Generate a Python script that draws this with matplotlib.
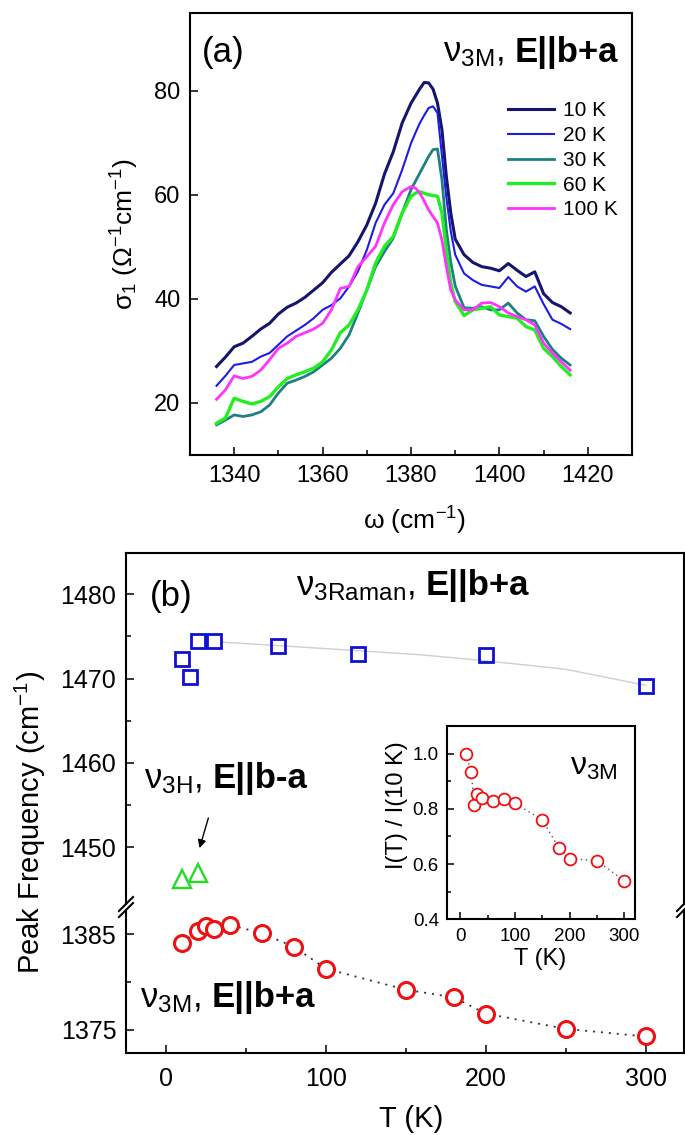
import matplotlib
matplotlib.use("Agg")
import matplotlib.pyplot as plt
from matplotlib.ticker import MultipleLocator, FixedLocator
from matplotlib.lines import Line2D

plt.rcParams['font.family'] = ['Liberation Sans', 'DejaVu Sans']
plt.rcParams['mathtext.fontset'] = 'custom'
plt.rcParams['mathtext.rm'] = 'Liberation Sans'
plt.rcParams['mathtext.it'] = 'Liberation Sans:italic'
plt.rcParams['mathtext.bf'] = 'Liberation Sans:bold'
plt.rcParams['mathtext.default'] = 'regular'

# ---- panel (a): sigma_1 spectra ----
w = [1336, 1338, 1340, 1342, 1344, 1346, 1348, 1350, 1352, 1354, 1356, 1358,
     1360, 1362, 1364, 1366, 1368, 1370, 1372, 1374, 1376, 1378, 1380,
     1381, 1382, 1383, 1384, 1385, 1386, 1387, 1388, 1389, 1390,
     1392, 1394, 1396, 1398, 1400, 1402, 1404, 1406, 1408, 1410, 1412, 1414, 1416]
s10 = [27.0, 28.8, 30.8, 31.5, 32.8, 34.2, 35.3, 37.1, 38.4, 39.2, 40.3, 41.7,
       43.1, 45.1, 46.7, 48.3, 51.0, 54.2, 58.4, 64.0, 68.3, 73.8, 77.6,
       79.0, 80.4, 81.6, 81.5, 80.3, 77.6, 72.5, 63.5, 56.5, 51.5,
       48.5, 47.0, 46.2, 45.9, 45.4, 46.8, 45.5, 44.3, 45.2, 41.0, 39.3, 38.5, 37.3]
s20 = [23.3, 25.2, 27.3, 27.6, 27.9, 28.9, 29.6, 31.2, 32.8, 33.9, 35.0, 36.3,
       37.9, 38.8, 40.1, 42.4, 45.3, 49.4, 54.6, 58.1, 60.3, 64.8, 69.9,
       71.9, 73.8, 75.3, 76.7, 77.0, 75.7, 67.5, 59.5, 53.0, 48.5,
       44.9, 43.6, 42.7, 42.4, 42.1, 44.2, 42.4, 41.4, 42.4, 39.0, 36.0, 35.2, 34.2]
s30 = [15.8, 16.7, 17.7, 17.4, 17.7, 18.3, 19.6, 21.9, 23.8, 24.4, 25.1, 26.0,
       27.3, 28.6, 30.5, 33.1, 37.3, 41.7, 46.2, 49.1, 51.7, 56.5, 61.0,
       62.6, 64.2, 65.8, 67.4, 68.7, 68.8, 62.9, 53.3, 47.0, 42.5,
       38.3, 38.2, 38.5, 37.9, 37.9, 39.2, 37.3, 36.0, 35.8, 32.8, 30.3, 28.6, 27.3]
s60 = [16.1, 17.1, 20.9, 20.3, 19.8, 20.3, 21.2, 23.1, 24.7, 25.4, 26.0, 26.7,
       27.9, 30.2, 33.5, 35.0, 37.9, 41.7, 46.9, 50.1, 52.0, 56.5, 59.7,
       60.3, 60.6, 60.3, 60.0, 59.9, 59.7, 56.5, 49.4, 43.0, 39.5,
       36.8, 37.9, 38.2, 38.5, 36.9, 36.6, 36.3, 34.7, 34.0, 30.5, 28.9, 27.0, 25.4]
s100 = [20.7, 22.5, 25.2, 24.7, 25.1, 26.3, 28.3, 30.5, 31.5, 32.8, 33.5, 34.2,
        35.3, 37.9, 42.0, 42.4, 46.2, 48.1, 50.1, 54.6, 58.1, 60.6, 61.6,
        61.3, 60.3, 58.8, 57.1, 55.8, 54.6, 51.3, 46.2, 41.7, 39.8,
        37.9, 37.9, 39.2, 39.3, 38.5, 37.3, 36.6, 36.0, 35.0, 31.5, 29.6, 27.9, 26.3]
spec_labels = ['10 K', '20 K', '30 K', '60 K', '100 K']

# ---- panel (b): peak frequencies ----
T_raman = [10, 15, 20, 30, 70, 120, 200, 300]
f_raman = [1472.3, 1470.2, 1474.4, 1474.4, 1473.8, 1472.9, 1472.8, 1469.1]
T_guide = [35, 70, 120, 160, 200, 250, 300]
f_guide = [1474.3, 1473.9, 1473.3, 1472.8, 1472.1, 1471.1, 1469.2]
T_h = [10, 20]
f_h = [1446.3, 1447.0]
T_m = [10, 20, 25, 30, 40, 60, 80, 100, 150, 180, 200, 250, 300]
f_m = [1384.1, 1385.3, 1385.9, 1385.6, 1386.0, 1385.1, 1383.7, 1381.4,
       1379.2, 1378.4, 1376.7, 1375.1, 1374.3]
# inset: normalised intensity
T_i = [10, 20, 25, 30, 40, 60, 80, 100, 150, 180, 200, 250, 300]
I_i = [1.0, 0.935, 0.815, 0.855, 0.84, 0.83, 0.835, 0.82, 0.76, 0.66, 0.62, 0.612, 0.54]

W, H = 685, 1135
fig = plt.figure(figsize=(W / 100, H / 100), dpi=100)


def rect(l, t, r, b):
    return [l / W, 1 - b / H, (r - l) / W, (b - t) / H]


def style(ax, size, pad):
    for s in ax.spines.values():
        s.set_linewidth(1.5)
    ax.tick_params(which='both', direction='in', top=False, right=False,
                   width=1.1, labelsize=size, pad=pad)
    ax.tick_params(which='major', length=6)
    ax.tick_params(which='minor', length=3.5)


def nu_label(ax, x, y, sub, bold, size):
    t = ax.text(x, y, 'ν$_{%s}$,' % sub, fontsize=size, ha='left', va='baseline', zorder=6)
    bb = t.get_window_extent(renderer=fig.canvas.get_renderer())
    xd = bb.x1 + 0.3 * size * fig.dpi / 72
    yd = ax.transData.transform((x, y))[1]
    xa, _ = ax.transData.inverted().transform((xd, yd))
    ax.text(xa, y, bold, fontsize=size, fontweight='bold', ha='left', va='baseline', zorder=6)


# ================= (a) =================
axa = fig.add_axes(rect(190, 12.7, 632, 455))
colors = ['#15156e', '#1c1ce6', '#1f8080', '#22ee22', '#ff33ff']
widths = [2.2, 1.5, 2.0, 2.4, 2.0]
for s, c, lw, lab in zip([s10, s20, s30, s60, s100], colors, widths, spec_labels):
    axa.plot(w, s, color=c, lw=lw, label=lab)
axa.set_xlim(1330, 1430)
axa.set_ylim(10, 95)
axa.xaxis.set_major_locator(MultipleLocator(20))
axa.xaxis.set_minor_locator(MultipleLocator(10))
axa.yaxis.set_major_locator(FixedLocator([20, 40, 60, 80]))
style(axa, 17, 7)
axa.set_xlabel('ω (cm$^{-1}$)', fontsize=19, va='center')
axa.xaxis.set_label_coords(0.507, -0.149)
axa.set_ylabel('σ$_1$ (Ω$^{-1}$cm$^{-1}$)', fontsize=19, va='center')
axa.yaxis.set_label_coords(-0.147, 0.5)
axa.legend(loc='upper left', bbox_to_anchor=(0.72, 0.80), frameon=False, fontsize=15,
           handlelength=2.2, handletextpad=0.45, labelspacing=0.28,
           borderpad=0, borderaxespad=0)
axa.text(1332.7, 85.6, '(a)', fontsize=25, ha='left', va='baseline')
nu_label(axa, 1387.2, 85.6, '3M', 'E||b+a', 25)

# ================= (b) =================
axu = fig.add_axes(rect(126, 552.7, 684, 904))
axl = fig.add_axes(rect(126, 910, 684, 1052.7))
for ax in (axu, axl):
    ax.set_xlim(-25, 324)
    style(ax, 18, 7)
axu.spines['bottom'].set_visible(False)
axl.spines['top'].set_visible(False)
axu.tick_params(which='both', bottom=False, labelbottom=False)
axu.set_ylim(1443.3, 1484.9)
axu.yaxis.set_major_locator(MultipleLocator(10))
axu.yaxis.set_minor_locator(FixedLocator([1455, 1465, 1475]))
axl.set_ylim(1372.6, 1387.55)
axl.yaxis.set_major_locator(FixedLocator([1375, 1385]))
axl.yaxis.set_minor_locator(FixedLocator([1380]))
axl.xaxis.set_major_locator(MultipleLocator(100))
axl.xaxis.set_minor_locator(MultipleLocator(50))
axl.tick_params(axis='x', pad=10)

axu.plot(T_guide, f_guide, color='#cfcfcf', lw=1, zorder=1)
axu.plot(T_raman, f_raman, ls='none', marker='s', ms=10.5, mew=2.0,
         mec='#1010d0', mfc='none', zorder=3)
axu.plot(T_h, f_h, ls='none', marker='^', ms=13, mew=1.7,
         mec='#22dd22', mfc='none', zorder=3)
axu.annotate('', xy=(20.5, 1449.6), xytext=(27, 1453.8),
             arrowprops=dict(arrowstyle='-|>', lw=1.0, color='k', mutation_scale=12))
axl.plot(T_m, f_m, color='#333333', lw=1.3, ls=(0, (1.1, 3.3)), zorder=1)
axl.plot(T_m, f_m, ls='none', marker='o', ms=11.5, mew=2.2,
         mec='#ee1111', mfc='white', zorder=3)

axu.text(-10, 1478.6, '(b)', fontsize=25, ha='left', va='baseline')
nu_label(axu, 81.6, 1479.9, '3Raman', 'E||b+a', 25)
nu_label(axu, -13.7, 1457.0, '3H', 'E||b-a', 25)
nu_label(axl, -16.2, 1377.35, '3M', 'E||b+a', 25)

fig.text(30 / W, 1 - 822 / H, 'Peak Frequency (cm$^{-1}$)', fontsize=21,
         rotation=90, ha='center', va='center')
fig.text(411 / W, 1 - 1119 / H, 'T (K)', fontsize=21, ha='center', va='center')

# axis break marks
for xp in (126, 684):
    for yp in (904, 910):
        fig.add_artist(Line2D([(xp - 7) / W, (xp + 7) / W],
                              [1 - (yp + 7) / H, 1 - (yp - 7) / H],
                              color='k', lw=1.5))

# ================= inset =================
axi = fig.add_axes(rect(447.3, 726, 635, 919.3))
axi.set_zorder(10)
axi.set_facecolor('white')
axi.plot(T_i, I_i, color='#555555', lw=1.0, ls=(0, (1, 2.6)), zorder=1)
axi.plot(T_i, I_i, ls='none', marker='o', ms=8.5, mew=1.3,
         mec='#ee1111', mfc='white', zorder=3)
axi.set_xlim(-24, 320)
axi.set_ylim(0.4, 1.1)
axi.xaxis.set_major_locator(MultipleLocator(100))
axi.xaxis.set_minor_locator(MultipleLocator(50))
axi.yaxis.set_major_locator(FixedLocator([0.4, 0.6, 0.8, 1.0]))
axi.yaxis.set_minor_locator(FixedLocator([0.5, 0.7, 0.9]))
axi.yaxis.set_major_formatter(plt.FuncFormatter(lambda v, p: '%.1f' % v))
style(axi, 13.5, 6)
axi.tick_params(which='major', length=5)
axi.tick_params(which='minor', length=3)
axi.set_xlabel('T (K)', fontsize=17, va='center')
axi.xaxis.set_label_coords(0.494, -0.203)
axi.set_ylabel('I(T) / I(10 K)', fontsize=17, va='center')
axi.yaxis.set_label_coords(-0.268, 0.589)
axi.text(200, 0.922, 'ν$_{3M}$', fontsize=23, ha='left', va='baseline')

fig.savefig('out.png', dpi=100)
